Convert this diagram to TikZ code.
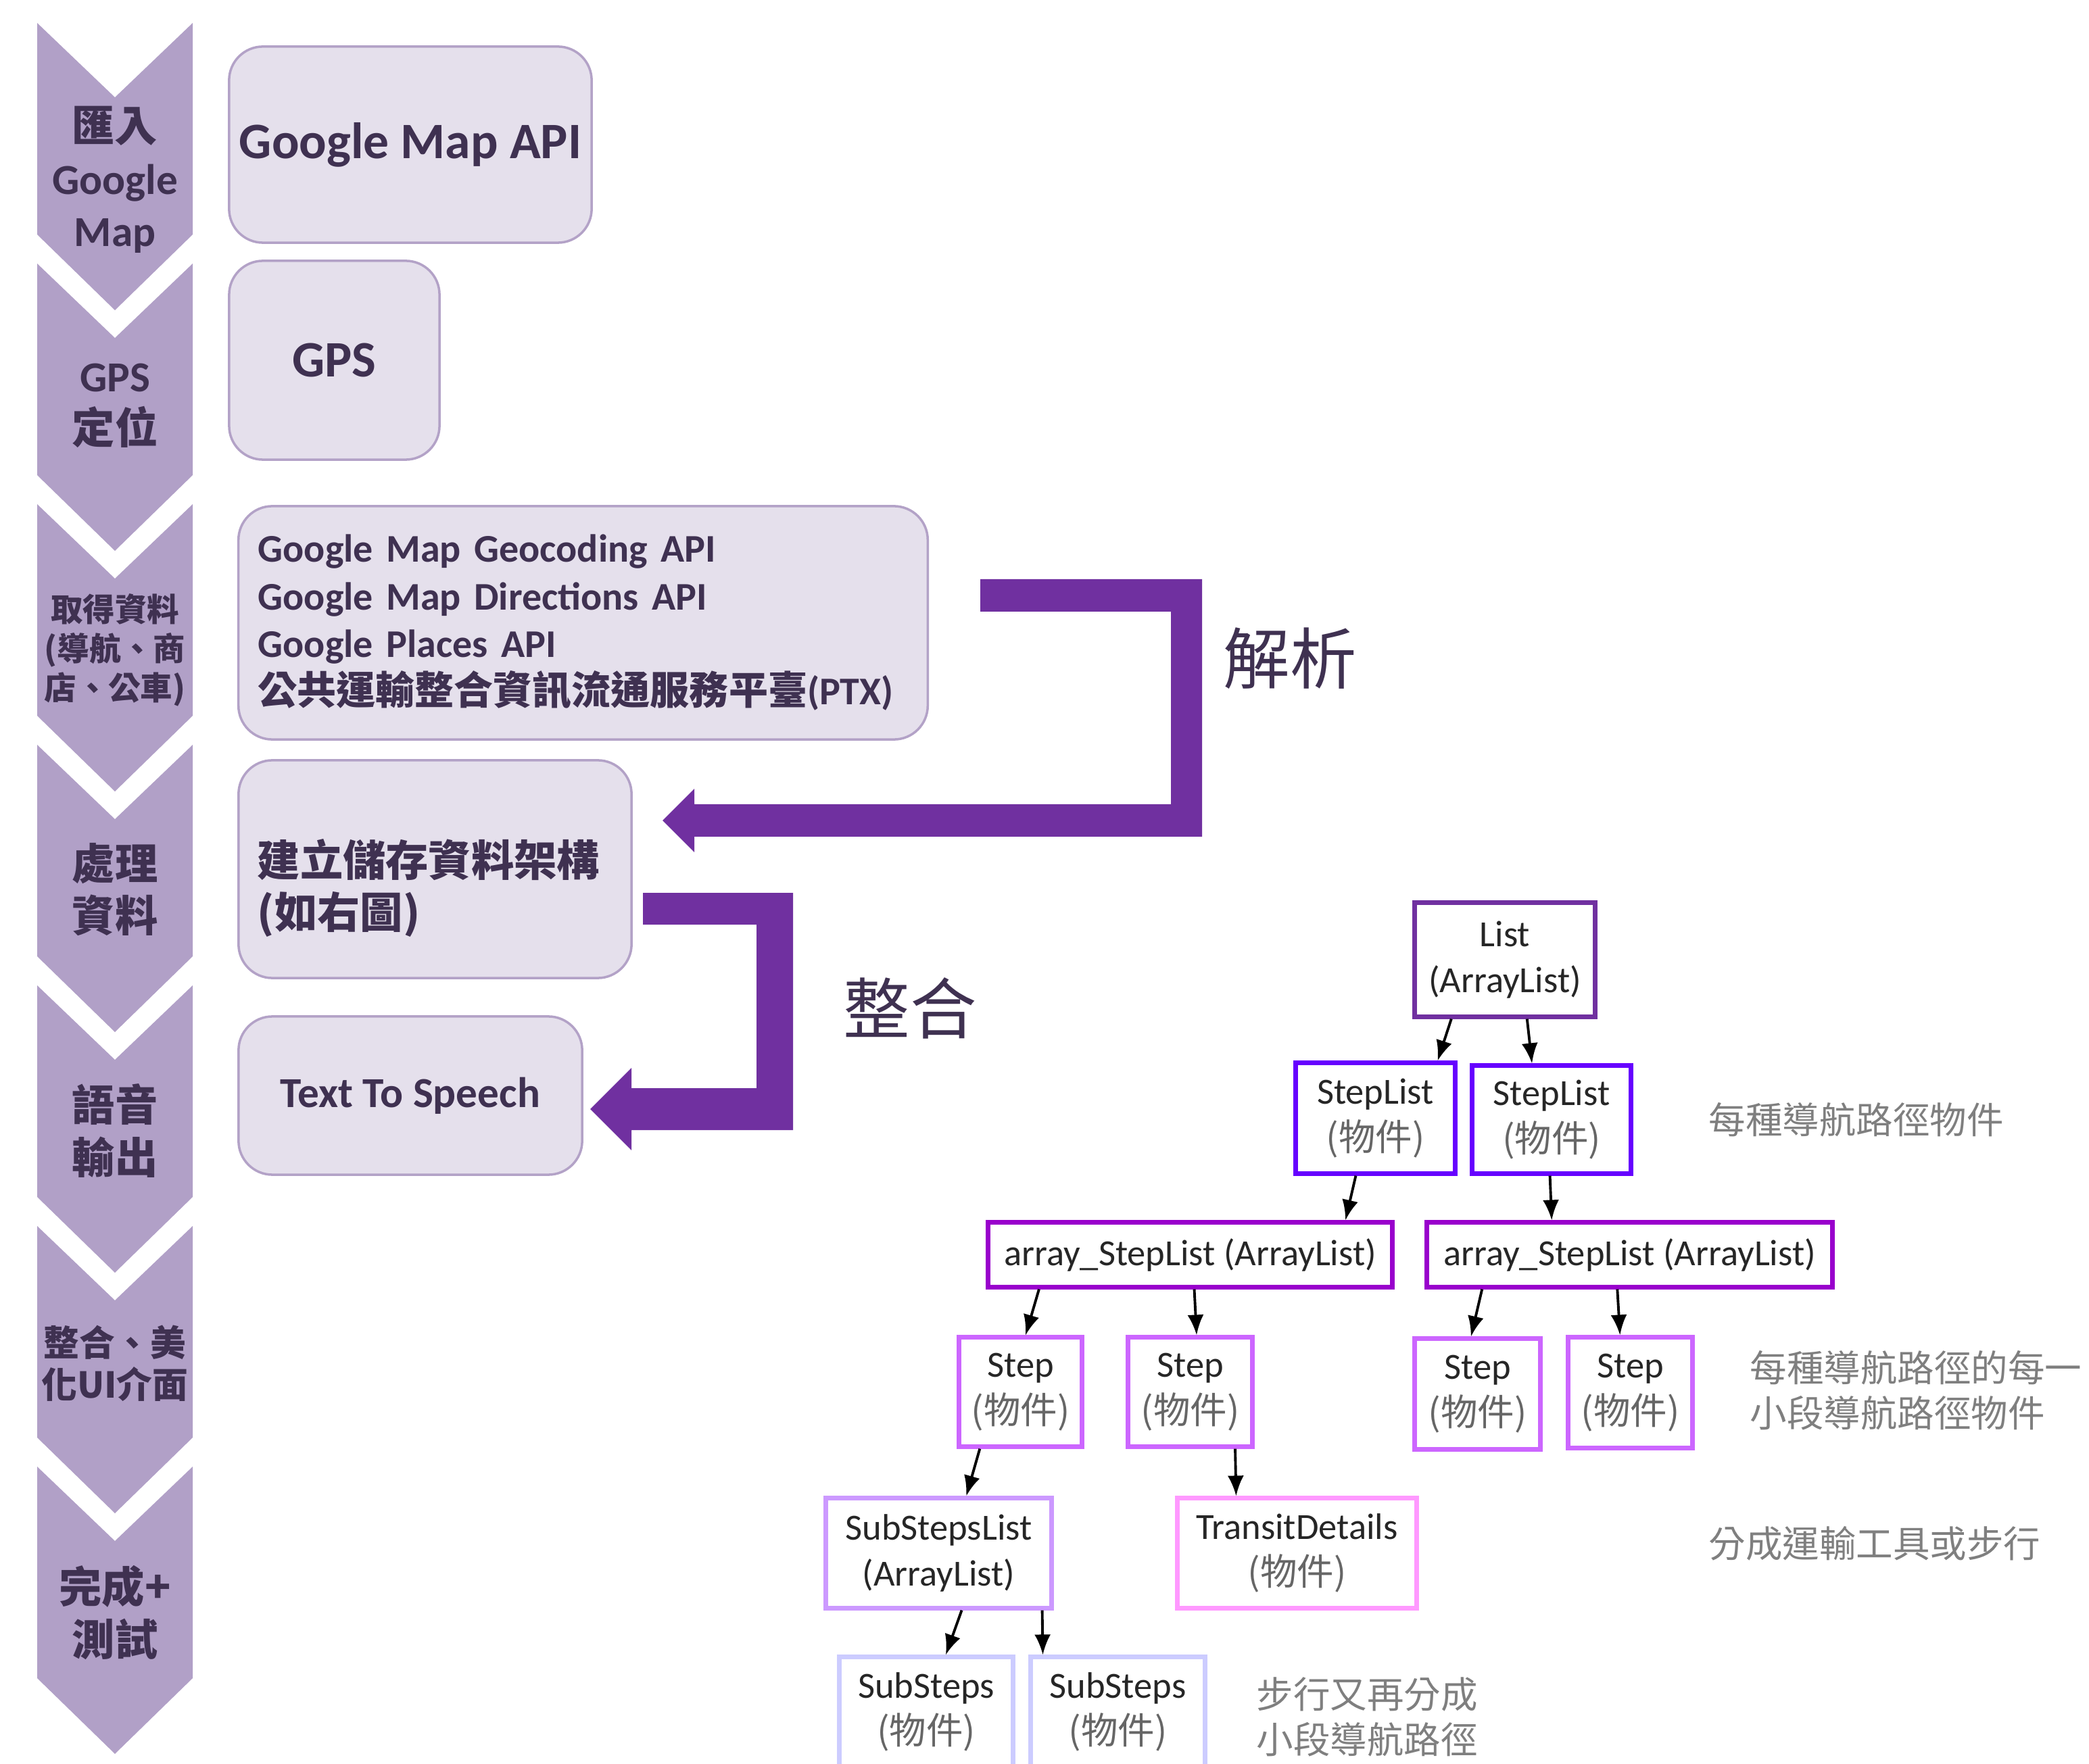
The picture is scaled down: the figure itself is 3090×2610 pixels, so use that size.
\documentclass[tikz,border=0pt]{standalone}
\usepackage{fontspec}
\setmainfont{Carlito}
\newfontfamily\zhfont{Noto Sans CJK TC}
\usetikzlibrary{calc}
\usetikzlibrary{arrows.meta}

\definecolor{chevfill}{HTML}{B1A0C7}
\definecolor{boxfill}{HTML}{E5E0EC}
\definecolor{boxline}{HTML}{B3A2C7}
\definecolor{darkpurple}{HTML}{3F3151}
\definecolor{bigarrow}{HTML}{7030A0}
\definecolor{listline}{HTML}{7030A0}
\definecolor{steplistline}{HTML}{6600FF}
\definecolor{arrayline}{HTML}{9900CC}
\definecolor{stepline}{HTML}{CC66FF}
\definecolor{sublistline}{HTML}{CC99FF}
\definecolor{transitline}{HTML}{FF99FF}
\definecolor{subline}{HTML}{CCCCFF}
\definecolor{notegray}{HTML}{7F7F7F}
\definecolor{objgray}{HTML}{666666}

\tikzset{
  chevron/.pic={\fill[chevfill] (55,0) -- (170,110) -- (285,0) -- (285,313) -- (170,425) -- (55,313) -- cycle;},
  chevtext/.style={align=center, text=darkpurple, font=\bfseries\fontsize{18}{22}\selectfont},
  chevzh/.style={align=center, text=darkpurple, font=\zhfont\bfseries\fontsize{18}{22}\selectfont},
  apibox/.style={draw=boxline, fill=boxfill, line width=1pt, rounded corners=0.5cm, text=darkpurple, font=\bfseries\fontsize{21.5}{26}\selectfont},
  treebox/.style={draw, line width=2pt, fill=white, align=center, inner sep=0pt, text=black!85, font=\fontsize{15.5}{19.5}\selectfont},
  tarrow/.style={-{Latex[length=3mm,width=2.4mm]}, line width=1.1pt},
  note/.style={anchor=west, align=left, inner sep=0pt, text=notegray, font=\zhfont\fontsize{15.5}{19}\selectfont},
}

\begin{document}
\begin{tikzpicture}[x=0.01cm, y=-0.01cm]
  \useasboundingbox (0,0) rectangle (3090,2610);
  \clip (0,0) rectangle (3090,2610);

  % steps on the left
  \pic at (0,34) {chevron};
  \pic at (0,390) {chevron};
  \pic at (0,746) {chevron};
  \pic at (0,1102) {chevron};
  \pic at (0,1458) {chevron};
  \pic at (0,1814) {chevron};
  \pic at (0,2170) {chevron};

  \node[chevtext] (c1) at (170,266) {{\zhfont 匯入}\\Google\\Map};
  \node[chevtext] (c2) at (170,600) {GPS\\{\zhfont 定位}};
  \node[chevzh, font=\zhfont\bfseries\fontsize{13.5}{16.5}\selectfont] (c3) at (170,962) {取得資料\\(導航、商\\店、公車)};
  \node[chevzh] (c4) at (170,1316) {處理\\資料};
  \node[chevzh] (c5) at (170,1673) {語音\\輸出};
  \node[chevzh, font=\zhfont\bfseries\fontsize{15}{17.5}\selectfont] (c6) at (170,2017) {整合、美\\化UI介面};
  \node[chevzh] (c7) at (170,2386) {完成+\\測試};

  % boxes
  \node[apibox, minimum width=5.36cm, minimum height=2.9cm] (b1) at (607,214) {Google Map API};
  \node[apibox, minimum width=3.11cm, minimum height=2.94cm] (b2) at (494.5,533) {GPS};
  \node[apibox, font=\bfseries\fontsize{16.5}{20}\selectfont, minimum width=10.19cm, minimum height=3.45cm,
        align=left, text width=9.61cm, inner xsep=0.29cm] (b3) at (862.5,921.5)
       {Google Map Geocoding API\\Google Map Directions API\\Google Places API\\{\zhfont 公共運輸整合資訊流通服務平臺}(PTX)};
  \node[apibox, minimum width=5.81cm, minimum height=3.22cm] (b4) at (643.5,1286) {};
  \node[anchor=west, align=left, inner sep=0pt, text=darkpurple, font=\zhfont\bfseries\fontsize{18}{22}\selectfont]
       (b4text) at ($(b4.west)+(29,28)$) {建立儲存資料架構\\(如右圖)};
  \node[apibox, font=\bfseries\fontsize{18}{22}\selectfont, minimum width=5.08cm, minimum height=2.34cm] (b5) at (607,1621) {Text To Speech};

  % big arrows
  \fill[bigarrow] (1450,857) -- (1778,857) -- (1778,1238) -- (1027,1238) -- (1027,1261) -- (980,1214)
    -- (1027,1167) -- (1027,1190) -- (1732,1190) -- (1732,905) -- (1450,905) -- cycle;
  \fill[bigarrow] (951,1321) -- (1173,1321) -- (1173,1672) -- (934,1672) -- (934,1702) -- (873,1641)
    -- (934,1580) -- (934,1610) -- (1119,1610) -- (1119,1368) -- (951,1368) -- cycle;
  \node[text=darkpurple, font=\zhfont\fontsize{28}{32}\selectfont] (parse) at (1908,974) {解析};
  \node[text=darkpurple, font=\zhfont\fontsize{28}{32}\selectfont] (merge) at (1346,1492) {整合};

  % data structure
  \node[treebox, draw=listline, minimum width=2.66cm, minimum height=1.68cm] (list) at (2226,1420) {List\\(ArrayList)};
  \node[treebox, draw=steplistline, minimum width=2.35cm, minimum height=1.63cm] (sl1) at (2034.5,1654.5) {StepList\\{\zhfont\color{objgray}(物件)}};
  \node[treebox, draw=steplistline, minimum width=2.34cm, minimum height=1.59cm] (sl2) at (2295,1656.5) {StepList\\{\zhfont\color{objgray}(物件)}};
  \node[treebox, draw=arrayline, minimum width=5.97cm, minimum height=0.95cm] (asl1) at (1760.5,1856.5) {array\_StepList (ArrayList)};
  \node[treebox, draw=arrayline, minimum width=5.99cm, minimum height=0.95cm] (asl2) at (2410.5,1856.5) {array\_StepList (ArrayList)};
  \node[treebox, draw=stepline, minimum width=1.81cm, minimum height=1.61cm] (st1) at (1509.5,2059.5) {Step\\{\zhfont\color{objgray}(物件)}};
  \node[treebox, draw=stepline, minimum width=1.83cm, minimum height=1.61cm] (st2) at (1760.5,2059.5) {Step\\{\zhfont\color{objgray}(物件)}};
  \node[treebox, draw=stepline, minimum width=1.85cm, minimum height=1.63cm] (st3) at (2185.5,2062.5) {Step\\{\zhfont\color{objgray}(物件)}};
  \node[treebox, draw=stepline, minimum width=1.83cm, minimum height=1.63cm] (st4) at (2411.5,2060.5) {Step\\{\zhfont\color{objgray}(物件)}};
  \node[treebox, draw=sublistline, minimum width=3.33cm, minimum height=1.62cm] (ssl) at (1388.5,2298) {SubStepsList\\(ArrayList)};
  \node[treebox, draw=transitline, minimum width=3.53cm, minimum height=1.62cm] (td) at (1918.5,2298) {TransitDetails\\{\zhfont\color{objgray}(物件)}};
  \node[treebox, draw=subline, minimum width=2.56cm, minimum height=1.62cm] (ss1) at (1370,2533) {SubSteps\\{\zhfont\color{objgray}(物件)}};
  \node[treebox, draw=subline, minimum width=2.57cm, minimum height=1.62cm] (ss2) at (1653.5,2533) {SubSteps\\{\zhfont\color{objgray}(物件)}};

  \draw[tarrow] ($(list.south west)!0.21!(list.south east)$) -- ($(sl1.north west)!0.88!(sl1.north east)$);
  \draw[tarrow] ($(list.south west)!0.62!(list.south east)$) -- ($(sl2.north west)!0.38!(sl2.north east)$);
  \draw[tarrow] ($(sl1.south west)!0.38!(sl1.south east)$) -- ($(asl1.north west)!0.88!(asl1.north east)$);
  \draw[tarrow] ($(sl2.south west)!0.49!(sl2.south east)$) -- ($(asl2.north west)!0.31!(asl2.north east)$);
  \draw[tarrow] ($(asl1.south west)!0.13!(asl1.south east)$) -- ($(st1.north west)!0.54!(st1.north east)$);
  \draw[tarrow] ($(asl1.south west)!0.51!(asl1.south east)$) -- ($(st2.north west)!0.55!(st2.north east)$);
  \draw[tarrow] ($(asl2.south west)!0.14!(asl2.south east)$) -- ($(st3.north west)!0.45!(st3.north east)$);
  \draw[tarrow] ($(asl2.south west)!0.47!(asl2.south east)$) -- ($(st4.north west)!0.42!(st4.north east)$);
  \draw[tarrow] ($(st1.south west)!0.18!(st1.south east)$) -- ($(ssl.north west)!0.62!(ssl.north east)$);
  \draw[tarrow] ($(st2.south west)!0.85!(st2.south east)$) -- ($(td.north west)!0.25!(td.north east)$);
  \draw[tarrow] ($(ssl.south west)!0.60!(ssl.south east)$) -- ($(ss1.north west)!0.61!(ss1.north east)$);
  \draw[tarrow] ($(ssl.south west)!0.95!(ssl.south east)$) -- ($(ss2.north west)!0.08!(ss2.north east)$);

  % notes
  \node[note] (n1) at (2527,1657) {每種導航路徑物件};
  \node[note] (n2) at (2588,2057) {每種導航路徑的每一\\小段導航路徑物件};
  \node[note] (n3) at (2527,2284) {分成運輸工具或步行};
  \node[note] (n4) at (1858,2540) {步行又再分成\\小段導航路徑};
\end{tikzpicture}
\end{document}
